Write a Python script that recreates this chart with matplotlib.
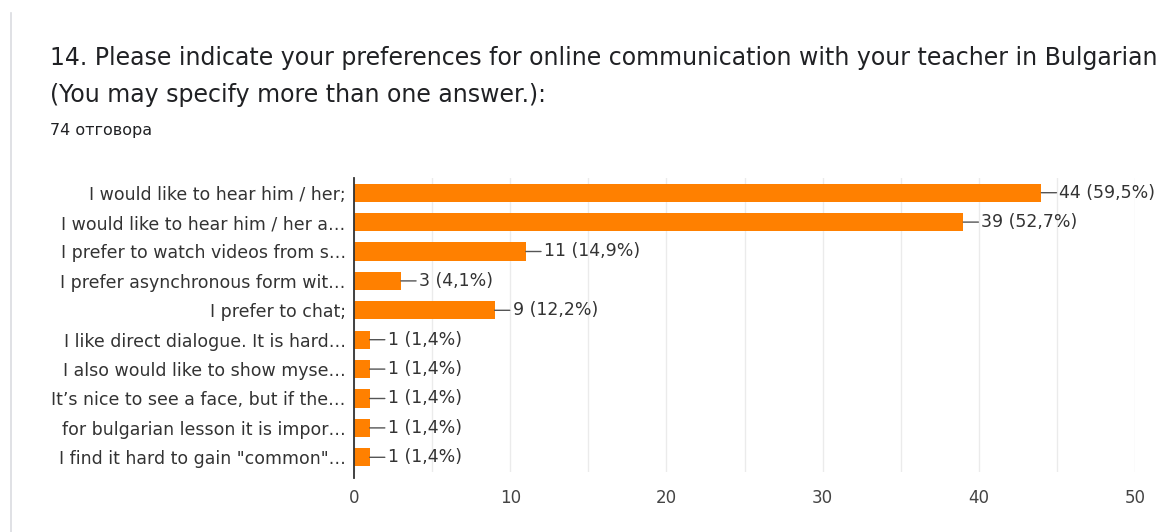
import matplotlib.pyplot as plt
from matplotlib.lines import Line2D

# Survey answers (Google Forms style summary)
labels = [
    'I would like to hear him / her;',
    'I would like to hear him / her a\u2026',
    'I prefer to watch videos from s\u2026',
    'I prefer asynchronous form wit\u2026',
    'I prefer to chat;',
    'I like direct dialogue. It is hard\u2026',
    'I also would like to show myse\u2026',
    'It\u2019s nice to see a face, but if the\u2026',
    'for bulgarian lesson it is impor\u2026',
    'I find it hard to gain "common"\u2026',
]
counts = [44, 39, 11, 3, 9, 1, 1, 1, 1, 1]
percents = ['59,5', '52,7', '14,9', '4,1', '12,2', '1,4', '1,4', '1,4', '1,4', '1,4']
x_ticks = [0, 10, 20, 30, 40, 50]

title_1 = '14. Please indicate your preferences for online communication with your teacher in Bulgarian'
title_2 = '(You may specify more than one answer.):'
subtitle = '74 отговора'

bar_color = '#ff8000'
text_color = '#333333'
font = 'DejaVu Sans'

fig = plt.figure(figsize=(11.58, 5.32), dpi=100)
fig.patch.set_facecolor('white')

# card border on the left
fig.add_artist(Line2D([11 / 1158, 11 / 1158], [0, 1 - 13 / 532], color='#dadce0', lw=1.2))

fig.text(50 / 1158, 1 - 58 / 532, title_1, fontsize=17, family=font, color='#202124',
         va='center', ha='left')
fig.text(50 / 1158, 1 - 95 / 532, title_2, fontsize=17, family=font, color='#202124',
         va='center', ha='left')
fig.text(50 / 1158, 1 - 131 / 532, subtitle, fontsize=11.5, family=font, color='#202124',
         va='center', ha='left')

ax = fig.add_axes([354 / 1158, 1 - 472 / 532, (1135 - 354) / 1158, (472 - 178) / 532])
y = list(range(len(labels)))
ax.barh(y, counts, height=0.62, color=bar_color, zorder=3)

for i, (c, p) in enumerate(zip(counts, percents)):
    ax.annotate(f'{c} ({p}%)', xy=(c, i), xytext=(18, 0), textcoords='offset pixels',
                va='center', ha='left', fontsize=12.5, family=font, color=text_color,
                arrowprops=dict(arrowstyle='-', color='#555555', lw=1, shrinkA=0, shrinkB=0,
                                relpos=(0, 0.5)), zorder=4, annotation_clip=False)

ax.set_xlim(0, 50)
ax.set_ylim(len(labels) - 0.5, -0.5)
ax.set_yticks(y)
ax.set_yticklabels(labels, fontsize=12.5, family=font, color=text_color)
ax.set_xticks(x_ticks)
ax.set_xticklabels([str(t) for t in x_ticks], fontsize=12, family=font, color='#444444')
ax.set_xticks(list(range(5, 50, 10)), minor=True)
ax.tick_params(axis='both', which='both', length=0, pad=6)
ax.tick_params(axis='x', which='both', pad=12)
ax.grid(axis='x', which='both', color='#ebebeb', lw=1, zorder=0)

for s in ['top', 'right', 'bottom']:
    ax.spines[s].set_visible(False)
ax.spines['left'].set_color('#333333')
ax.spines['left'].set_linewidth(1.3)
ax.spines['left'].set_zorder(5)
ax.spines['left'].set_bounds(len(labels) - 0.3, -0.5)

fig.savefig('out.png', dpi=100)
